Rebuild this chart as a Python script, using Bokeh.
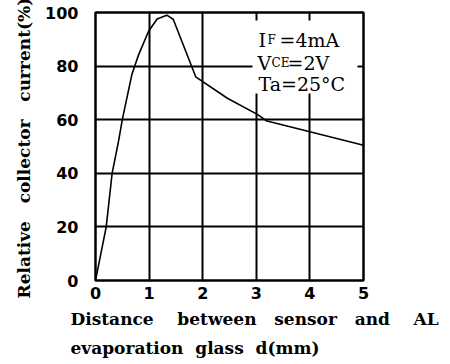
from bokeh.plotting import figure
from bokeh.models import Range1d, Label, FixedTicker, Title
from bokeh.embed import file_html
from bokeh.resources import INLINE

# Data
distance = [0, 0.2, 0.31, 0.43, 0.50, 0.68, 0.80, 0.99, 1.15, 1.33, 1.45, 1.87, 2.46, 3.02, 3.2, 4.0, 5.0]
rel_current = [0, 20, 40, 52, 60, 77, 84, 93, 97.6, 99, 97.5, 76, 68, 62, 59.5, 55.5, 50.5]
x_ticks = [0, 1, 2, 3, 4, 5]
y_ticks = [0, 20, 40, 60, 80, 100]

W, H = 450, 364
L, R, T, B = 95, 87, 12, 84
fw, fh = W - L - R, H - T - B

def dx(px):
    return (px - L) / fw * 5.0

def dy(py):
    return (H - B - py) / fh * 100.0

p = figure(width=W, height=H, output_backend="svg", toolbar_location=None,
           x_range=Range1d(0, 5), y_range=Range1d(0, 100),
           min_border_left=L, min_border_right=R, min_border_top=T, min_border_bottom=B)
p.background_fill_color = "white"
p.border_fill_color = "white"
p.outline_line_color = "black"
p.outline_line_width = 2.5

for ax in (p.xaxis, p.yaxis):
    ax.axis_line_color = None
    ax.major_tick_line_color = None
    ax.minor_tick_line_color = None
    ax.major_tick_out = 0
    ax.major_tick_in = 0
    ax.major_label_text_font = "DejaVu Sans"
    ax.major_label_text_font_style = "bold"
    ax.major_label_text_font_size = "16px"
    ax.major_label_text_color = "black"
p.xaxis.ticker = FixedTicker(ticks=x_ticks)
p.yaxis.ticker = FixedTicker(ticks=y_ticks)
p.xaxis.major_label_standoff = 6
p.yaxis.major_label_standoff = 17

p.xgrid.ticker = FixedTicker(ticks=x_ticks)
p.ygrid.ticker = FixedTicker(ticks=y_ticks)
for g in (p.xgrid, p.ygrid):
    g.grid_line_color = "black"
    g.grid_line_width = 2
    g.grid_line_alpha = 1.0

# white box behind the condition text
p.quad(left=dx(252), right=dx(357), top=dy(20), bottom=dy(93),
       fill_color="white", line_color=None)

p.line(distance, rel_current, line_color="black", line_width=1.6)

def lab(text, px, py, size, font="DejaVu Serif", style="normal"):
    p.add_layout(Label(x=dx(px), y=dy(py), text=text, text_font=font,
                       text_font_style=style, text_font_size=f"{size}px",
                       text_color="black", text_baseline="alphabetic",
                       text_align="left"))

# Conditions
lab("I", 258, 39, 19)
lab("F", 267, 39, 12)
lab("=4mA", 279, 39, 19)
lab("V", 257, 62, 19)
lab("CE", 271, 62, 12)
lab("=2V", 287, 62, 19)
lab("Ta=25°C", 258, 83, 19)

# Axis titles
def sp(n):
    return "\u00a0" * n

def title(text, place, offset, standoff):
    t = Title(text=text, align="left", offset=offset, standoff=standoff,
              text_font="DejaVu Serif", text_font_style="bold",
              text_font_size="17px", text_color="black")
    p.add_layout(t, place)

title(f"Distance{sp(4)}between{sp(3)}sensor{sp(3)}and{sp(4)}AL", "below", -25, 11)
title(f"evaporation{sp(2)}glass{sp(2)}d(mm)", "below", -25, 3)
title(f"Relative{sp(3)}collector{sp(3)}current(%)", "left", -18, 17)

open("out.html", "w").write(file_html(p, INLINE))
